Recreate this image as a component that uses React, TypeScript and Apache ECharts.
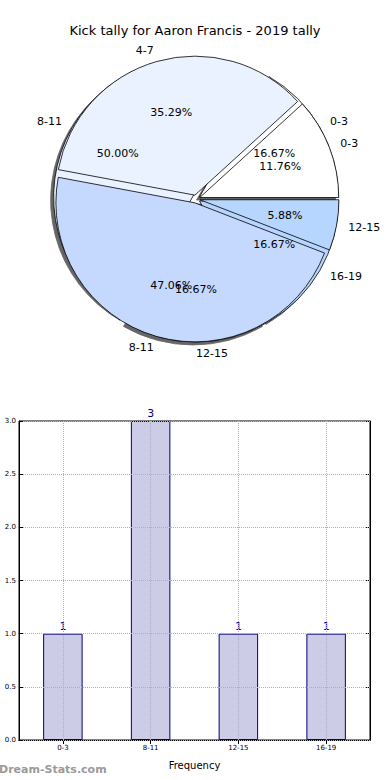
import React, { useEffect, useRef } from "react";
import * as echarts from "echarts";

const chartTitle = "Kick tally for Aaron Francis - 2019 tally";
const pieACategories = ["0-3", "8-11", "12-15", "16-19"];
const pieAValues = [1, 3, 1, 1];
const pieBCategories = ["0-3", "4-7", "8-11", "12-15"];
const pieBValues = [2, 6, 8, 1];
const pieColors = ["#ffffff", "#eaf1ff", "#c5d9ff", "#b6d5ff"];
const barCategories = ["0-3", "8-11", "12-15", "16-19"];
const barValues = [1, 3, 1, 1];
const yMin = 0;
const yMax = 3;
const yStep = 0.5;
const xAxisName = "Frequency";
const watermark = "Dream-Stats.com";

const FONT = "DejaVu Sans";
const CX = 196;
const CY = 199;
const R = 139;
const OFFSET = 4;

function pctFormatter(values: number[]) {
  const total = values.reduce((a, b) => a + b, 0);
  return (p: any) => ((p.value / total) * 100).toFixed(2) + "%";
}

// matplotlib puts a label that sits exactly at the bottom (270°) to the right of its anchor
function needsLeftAlign(vals: number[], i: number) {
  const total = vals.reduce((a, b) => a + b, 0);
  const before = vals.slice(0, i).reduce((a, b) => a + b, 0);
  const mid = ((before + vals[i] / 2) / total) * 360;
  return Math.abs(mid - 270) < 0.01;
}

function sectorSeries(cats: string[], vals: number[], shadow: boolean) {
  return {
    type: "pie",
    center: [CX, CY],
    radius: R,
    startAngle: 0,
    clockwise: false,
    silent: true,
    z: 2,
    avoidLabelOverlap: false,
    labelLayout: (params: any) =>
      needsLeftAlign(vals, params.dataIndex) ? { dx: params.labelRect.width } : {},
    selectedMode: "multiple",
    selectedOffset: OFFSET,
    emphasis: { disabled: true },
    itemStyle: {
      borderColor: "#000",
      borderWidth: 0.8,
      ...(shadow
        ? {
            shadowColor: "rgba(0,0,0,0.6)",
            shadowBlur: 1.5,
            shadowOffsetX: -3,
            shadowOffsetY: 3,
          }
        : {}),
    },
    label: {
      show: true,
      position: "outside",
      formatter: "{b}",
      fontSize: 11,
      fontFamily: FONT,
      color: "#000",
      distanceToLabelLine: 0,
    },
    labelLine: { show: false, length: R * 0.085, length2: 0 },
    data: cats.map((c, i) => ({
      name: c,
      value: vals[i],
      selected: true,
      itemStyle: { color: pieColors[i] },
    })),
  };
}

function pctSeries(cats: string[], vals: number[]) {
  return {
    type: "pie",
    center: [CX, CY],
    radius: R * 1.2,
    startAngle: 0,
    clockwise: false,
    silent: true,
    z: 5,
    avoidLabelOverlap: false,
    labelLayout: { hideOverlap: false },
    selectedMode: "multiple",
    selectedOffset: OFFSET,
    emphasis: { disabled: true },
    itemStyle: { color: "rgba(0,0,0,0)", borderWidth: 0 },
    label: {
      show: true,
      position: "inside",
      overflow: "none",
      formatter: pctFormatter(vals),
      fontSize: 11,
      fontFamily: FONT,
      color: "#000",
    },
    labelLine: { show: false },
    data: cats.map((c, i) => ({ name: c, value: vals[i], selected: true })),
  };
}

export default function App() {
  const ref = useRef<HTMLDivElement>(null);
  useEffect(() => {
    if (!ref.current) return;
    const chart = echarts.init(ref.current, null, { renderer: "svg" });
    chart.setOption({
      animation: false,
      backgroundColor: "#fff",
      textStyle: { fontFamily: FONT },
      title: {
        text: chartTitle,
        left: "center",
        top: 19,
        textStyle: { fontSize: 13, fontWeight: "normal", color: "#000", fontFamily: FONT },
      },
      grid: {
        left: 19,
        right: 20,
        top: 421,
        bottom: 40,
        show: true,
        borderColor: "#000",
        borderWidth: 1,
        backgroundColor: "transparent",
      },
      xAxis: [
        {
          type: "category",
          data: barCategories,
          position: "bottom",
          axisLine: { show: true, lineStyle: { color: "#000", width: 1 } },
          axisTick: { show: true, inside: true, alignWithLabel: true, length: 4, lineStyle: { color: "#000" } },
          axisLabel: { fontSize: 7, color: "#000", margin: 4, fontFamily: FONT },
          splitLine: { show: false },
          name: xAxisName,
          nameLocation: "middle",
          nameGap: 20,
          nameTextStyle: { fontSize: 10, color: "#000", fontFamily: FONT },
        },
        {
          type: "category",
          data: barCategories,
          position: "top",
          axisLine: { show: true, lineStyle: { color: "#000", width: 1 } },
          axisTick: { show: true, inside: true, alignWithLabel: true, length: 4, lineStyle: { color: "#000" } },
          axisLabel: { show: false },
          splitLine: { show: false },
        },
      ],
      yAxis: [
        {
          type: "value",
          min: yMin,
          max: yMax,
          interval: yStep,
          position: "left",
          z: 5,
          axisLine: { show: true, lineStyle: { color: "#000", width: 1 } },
          axisTick: { show: true, inside: true, length: 4, lineStyle: { color: "#000" } },
          axisLabel: { fontSize: 7, color: "#000", margin: 3, fontFamily: FONT, formatter: (v: number) => v.toFixed(1) },
          splitLine: { show: true, lineStyle: { color: "#b0b0b0", type: "dotted", width: 1 } },
        },
        {
          type: "value",
          min: yMin,
          max: yMax,
          interval: yStep,
          position: "right",
          axisLine: { show: true, lineStyle: { color: "#000", width: 1 } },
          axisTick: { show: true, inside: true, length: 4, lineStyle: { color: "#000" } },
          axisLabel: { show: false },
          splitLine: { show: false },
        },
      ],
      graphic: [
        {
          type: "text",
          left: -1,
          top: 764,
          style: { text: watermark, fill: "#9a9a9a", fontSize: 11, fontWeight: "bold", fontFamily: FONT },
        },
      ],
      series: [
        sectorSeries(pieACategories, pieAValues, true),
        sectorSeries(pieBCategories, pieBValues, false),
        pctSeries(pieACategories, pieAValues),
        pctSeries(pieBCategories, pieBValues),
        {
          type: "bar",
          xAxisIndex: 0,
          yAxisIndex: 0,
          data: barValues,
          barWidth: "45%",
          silent: true,
          itemStyle: { color: "#ccccE6", borderColor: "#000080", borderWidth: 1 },
          label: { show: true, position: "top", distance: 2, fontSize: 11, color: "#00008b", fontFamily: FONT },
          markLine: {
            silent: true,
            symbol: ["none", "none"],
            label: { show: false },
            z: 6,
            lineStyle: { color: "#b0b0b0", type: "dotted", width: 1 },
            data: barCategories.map((c) => ({ xAxis: c })),
          },
        },
      ],
    });
    return () => chart.dispose();
  }, []);
  return (
    <div
      ref={ref}
      style={{ position: "fixed", left: 0, top: 0, width: 390, height: 780, background: "#fff" }}
    />
  );
}
